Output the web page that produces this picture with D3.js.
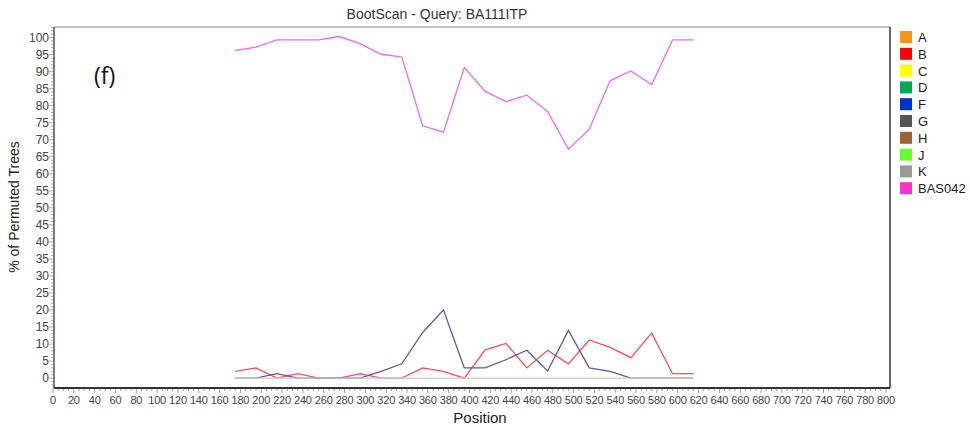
<!DOCTYPE html>
<html lang="en">
<head>
  <meta charset="UTF-8" />
  <title>BootScan - Query: BA111ITP</title>
  <script src="https://d3js.org/d3.v7.min.js"></script>
  <style>
    body { margin: 0; background: white; font-family: Arial, "Liberation Sans", sans-serif; }
    svg { display: block; }
    .tick-label { font-size: 12px; fill: #444; }
    .x-label { font-size: 11px; fill: #444; }
    .line { fill: none; stroke-width: 1.3; }
  </style>
</head>
<body>
  <svg width="970" height="427"></svg>
  <script>
    // Window positions (bp) and % of permuted trees per reference
    const positions = [175, 195, 215, 235, 255, 275, 295, 315, 335, 355, 375, 395,
                       415, 435, 455, 475, 495, 515, 535, 555, 575, 595, 615];
    const bValues = [2, 3, 0, 1.3, 0, 0, 1.3, 0, 0, 3, 2, 0,
                     8.3, 10.2, 3, 8.2, 4.2, 11.2, 9, 6, 13.2, 1.3, 1.3];
    const fValues = [0, 0, 1.3, 0, 0, 0, 0, 2, 4.2, 13.4, 20, 3,
                     3, 5.4, 8.2, 2.1, 14, 3, 2, 0, 0, 0, 0];
    const kValues = positions.map(() => 0);
    const basValues = [96.2, 97.2, 99.3, 99.3, 99.3, 100.3, 98.2, 95.1, 94.3, 74.1, 72.2, 91.2,
                       84.2, 81.2, 83.1, 78.3, 67.2, 73.1, 87.3, 90.2, 86.2, 99.3, 99.3];

    const legendNames = ["A", "B", "C", "D", "F", "G", "H", "J", "K", "BAS042"];
    const legendColors = ["#f7941d", "#ff0000", "#ffff00", "#00a650", "#0033cc",
                          "#555555", "#996633", "#66ff33", "#999999", "#ff33cc"];

    const xTicks = d3.range(0, 801, 20);
    const yTicks = d3.range(0, 101, 5);

    const svg = d3.select("svg");
    const plotLeft = 54, plotRight = 890, plotTop = 27, plotBottom = 388;

    const x = d3.scaleLinear().domain([0, 800]).range([53, 886]);
    const y = d3.scaleLinear().domain([-2.9, 103.1]).range([plotBottom, plotTop]);

    // frame
    svg.append("line").attr("x1", plotLeft).attr("x2", plotRight).attr("y1", plotTop).attr("y2", plotTop)
      .attr("stroke", "#888").attr("stroke-width", 1.2);
    svg.append("line").attr("x1", plotRight).attr("x2", plotRight).attr("y1", plotTop).attr("y2", plotBottom)
      .attr("stroke", "#333").attr("stroke-width", 1.5);

    // y axis with ruler-style minor ticks
    const yAxis = svg.append("g");
    yAxis.selectAll("line.minor")
      .data(d3.range(-2, 104, 1))
      .enter().append("line")
      .attr("x1", plotLeft)
      .attr("x2", d => d % 5 === 0 ? plotLeft - 5 : plotLeft - 3)
      .attr("y1", d => y(d)).attr("y2", d => y(d))
      .attr("stroke", "#999").attr("stroke-width", 0.8);
    yAxis.append("line").attr("x1", plotLeft).attr("x2", plotLeft).attr("y1", plotTop).attr("y2", plotBottom)
      .attr("stroke", "#555").attr("stroke-width", 1.5);
    yAxis.selectAll("text")
      .data(yTicks)
      .enter().append("text")
      .attr("class", "tick-label")
      .attr("x", plotLeft - 5).attr("y", d => y(d) + 4)
      .attr("text-anchor", "end")
      .text(d => d);

    // x axis
    const xAxis = svg.append("g");
    xAxis.selectAll("line.minor")
      .data(d3.range(0, 801, 5))
      .enter().append("line")
      .attr("x1", d => x(d)).attr("x2", d => x(d))
      .attr("y1", plotBottom).attr("y2", d => d % 20 === 0 ? plotBottom + 5 : plotBottom + 3)
      .attr("stroke", "#888").attr("stroke-width", 0.8);
    xAxis.append("line").attr("x1", plotLeft).attr("x2", plotRight).attr("y1", plotBottom).attr("y2", plotBottom)
      .attr("stroke", "#333").attr("stroke-width", 2);
    xAxis.selectAll("text")
      .data(xTicks)
      .enter().append("text")
      .attr("class", "x-label")
      .attr("x", d => x(d)).attr("y", plotBottom + 16)
      .attr("text-anchor", "middle")
      .attr("letter-spacing", -0.2)
      .text(d => d);

    // series lines, drawn in legend order so the zero line sits on top of B and F
    const series = [
      { values: bValues, color: "#f0505e", width: 1.3 },
      { values: fValues, color: "#5a5aa5", width: 1.3 },
      { values: kValues, color: "#cccccc", width: 1.6 },
      { values: basValues, color: "#ee6aee", width: 1.3 }
    ];
    const line = d3.line()
      .x((d, i) => x(positions[i]))
      .y(d => y(d));
    svg.selectAll("path.line")
      .data(series)
      .enter().append("path")
      .attr("class", "line")
      .attr("stroke", d => d.color)
      .attr("stroke-width", d => d.width)
      .attr("d", d => line(d.values));

    // titles
    svg.append("text").attr("x", 437).attr("y", 19).attr("text-anchor", "middle")
      .attr("font-size", 14).attr("fill", "#333").text("BootScan - Query: BA111ITP");
    svg.append("text").attr("x", 480).attr("y", 423).attr("text-anchor", "middle")
      .attr("font-size", 15).attr("fill", "#222").text("Position");
    svg.append("text")
      .attr("transform", "translate(19,207) rotate(-90)")
      .attr("text-anchor", "middle")
      .attr("font-size", 14).attr("fill", "#222").text("% of Permuted Trees");
    svg.append("text").attr("x", 94).attr("y", 84)
      .attr("font-family", "'Open Sans', sans-serif")
      .attr("font-size", 23).attr("fill", "#111").text("(f)");

    // legend
    const legend = svg.append("g").attr("transform", "translate(900,31)");
    const item = legend.selectAll("g")
      .data(legendNames)
      .enter().append("g")
      .attr("transform", (d, i) => `translate(0,${i * 16.8})`);
    item.append("rect").attr("width", 12).attr("height", 12)
      .attr("fill", (d, i) => legendColors[i]);
    item.append("text").attr("x", 18).attr("y", 11)
      .attr("font-size", 13).attr("fill", "#222").text(d => d);
  </script>
</body>
</html>
